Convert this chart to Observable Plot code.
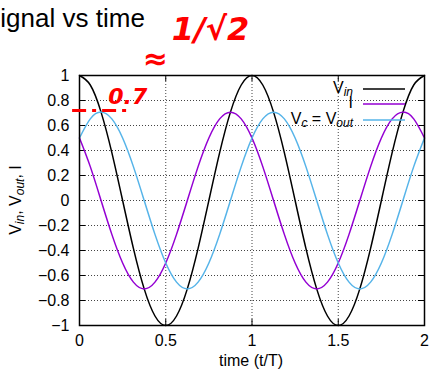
<!DOCTYPE html>
<html><head><meta charset="utf-8">
<script src="https://cdn.jsdelivr.net/npm/d3@7"></script>
<script src="https://cdn.jsdelivr.net/npm/@observablehq/plot@0.6"></script>
<style>body{margin:0;background:#fff} svg{display:block}</style>
</head><body><div id="chart"></div>
<script>
const time = [0, 0.0625, 0.125, 0.1875, 0.25, 0.3125, 0.375, 0.4375, 0.5, 0.5625, 0.625, 0.6875, 0.75, 0.8125, 0.875, 0.9375,
  1, 1.0625, 1.125, 1.1875, 1.25, 1.3125, 1.375, 1.4375, 1.5, 1.5625, 1.625, 1.6875, 1.75, 1.8125, 1.875, 1.9375, 2];
const vin = [1, 0.924, 0.707, 0.383, 0, -0.383, -0.707, -0.924, -1, -0.924, -0.707, -0.383, 0, 0.383, 0.707, 0.924,
  1, 0.924, 0.707, 0.383, 0, -0.383, -0.707, -0.924, -1, -0.924, -0.707, -0.383, 0, 0.383, 0.707, 0.924, 1];
const current = [0.5, 0.271, 0, -0.271, -0.5, -0.653, -0.707, -0.653, -0.5, -0.271, 0, 0.271, 0.5, 0.653, 0.707, 0.653,
  0.5, 0.271, 0, -0.271, -0.5, -0.653, -0.707, -0.653, -0.5, -0.271, 0, 0.271, 0.5, 0.653, 0.707, 0.653, 0.5];
const vout = [0.5, 0.653, 0.707, 0.653, 0.5, 0.271, 0, -0.271, -0.5, -0.653, -0.707, -0.653, -0.5, -0.271, 0, 0.271,
  0.5, 0.653, 0.707, 0.653, 0.5, 0.271, 0, -0.271, -0.5, -0.653, -0.707, -0.653, -0.5, -0.271, 0, 0.271, 0.5];
const xTicks = [0, 0.5, 1, 1.5, 2];
const yTicks = [-1, -0.8, -0.6, -0.4, -0.2, 0, 0.2, 0.4, 0.6, 0.8, 1];
const seriesKeys = ["Vin", "I", "Vout"];
const seriesColors = ["#000000", "#9400d3", "#56b4e9"];
const annotationTexts = ["0.7", "≈", "1/√2"];
const annotationX = [0.28, 0.44, 0.76];
const annotationY = [0.83, 1.13, 1.37];
const annotationSizes = [22, 30, 32];
const guideY = [0.72];
const guideX = [-0.04, 0.285];

const rows = [];
time.forEach((t, i) => {
  rows.push({t, v: vin[i], s: "Vin"});
  rows.push({t, v: current[i], s: "I"});
  rows.push({t, v: vout[i], s: "Vout"});
});
const annotations = annotationTexts.map((txt, i) => ({txt, x: annotationX[i], y: annotationY[i], size: annotationSizes[i]}));
const innerX = xTicks.slice(1, -1);
const innerY = yTicks.slice(1, -1);
const fmt = d => (d < 0 ? "\u2212" : "") + String(Math.abs(d));
const FONT = "'Liberation Sans', Arial, sans-serif";

const plot = Plot.plot({
  width: 430, height: 371,
  marginLeft: 79, marginRight: 6, marginTop: 75, marginBottom: 46,
  style: {fontFamily: FONT, fontSize: "16px", background: "#fff", color: "#000"},
  x: {domain: [0, 2]},
  y: {domain: [-1, 1]},
  color: {domain: seriesKeys, range: seriesColors},
  marks: [
    Plot.ruleX(innerX, {x: d => d, stroke: "#444", strokeDasharray: "1,2", strokeWidth: 1}),
    Plot.ruleY(innerY, {y: d => d, stroke: "#444", strokeDasharray: "1,2", strokeWidth: 1}),
    Plot.ruleX(xTicks, {x: d => d, y1: -1, y2: -0.952, stroke: "#000"}),
    Plot.ruleX(xTicks, {x: d => d, y1: 1, y2: 0.952, stroke: "#000"}),
    Plot.ruleY(yTicks, {y: d => d, x1: 0, x2: 0.035, stroke: "#000"}),
    Plot.ruleY(yTicks, {y: d => d, x1: 2, x2: 1.965, stroke: "#000"}),
    Plot.axisX(xTicks, {tickSize: 0, tickPadding: 9, tickFormat: fmt, label: null, fontSize: 16}),
    Plot.axisY(yTicks, {tickSize: 0, tickPadding: 10, tickFormat: fmt, label: null, fontSize: 16}),
    Plot.line(rows, {x: "t", y: "v", stroke: "s", curve: "natural", strokeWidth: 1.5}),
    Plot.frame({stroke: "#000", strokeWidth: 1.5}),
    Plot.ruleY(guideY, {y: d => d, x1: guideX[0], x2: guideX[1], stroke: "#ff0000", strokeWidth: 3, strokeDasharray: "14,6,4,6", clip: false}),
    Plot.text(annotations, {x: "x", y: "y", text: "txt", fontSize: "size", fill: "#ff0000", fontWeight: "bold", fontStyle: "italic", clip: false, fontFamily: "'DejaVu Sans', sans-serif"})
  ]
});

const svg = d3.select(plot);
// title (cropped at left in the reference)
svg.append("text").attr("x", -17).attr("y", 27).attr("font-size", 26).attr("text-anchor", "start")
  .attr("font-family", FONT).attr("fill", "#000").text("Signal vs time");

// y-axis label
const yl = svg.append("text").attr("transform", "translate(21,200) rotate(-90)")
  .attr("text-anchor", "middle").attr("font-size", 16).attr("fill", "#000")
  .attr("font-family", FONT);
yl.append("tspan").text("V");
yl.append("tspan").attr("font-style", "italic").attr("font-size", 12).attr("dy", 3).text("in");
yl.append("tspan").attr("dy", -3).text(", V");
yl.append("tspan").attr("font-style", "italic").attr("font-size", 12).attr("dy", 3).text("out");
yl.append("tspan").attr("dy", -3).text(", I");

// x-axis label
svg.append("text").attr("x", 251).attr("y", 366).attr("text-anchor", "middle").attr("font-size", 16)
  .attr("font-family", FONT).attr("fill", "#000").text("time (t/T)");

// legend
const legendY = [89, 104, 120];
const legendParts = [
  [["V", null], ["in", "sub"]],
  [["I", null]],
  [["V", null], ["c", "sub"], [" = V", null], ["out", "sub"]]
];
legendParts.forEach((parts, i) => {
  const t = svg.append("text").attr("x", 353).attr("y", legendY[i] + 4).attr("text-anchor", "end")
    .attr("font-size", 16).attr("fill", "#000").attr("font-family", FONT);
  let shifted = false;
  parts.forEach(([s, kind]) => {
    const sp = t.append("tspan").text(s);
    if (kind === "sub") { sp.attr("font-style", "italic").attr("font-size", 12); if (!shifted) { sp.attr("dy", 3); shifted = true; } }
    else if (shifted) { sp.attr("dy", -3); shifted = false; }
  });
  svg.append("line").attr("x1", 363).attr("x2", 405).attr("y1", legendY[i]).attr("y2", legendY[i])
    .attr("stroke", seriesColors[i]).attr("stroke-width", 1.5);
});

document.getElementById("chart").appendChild(plot);
</script>
</body></html>
